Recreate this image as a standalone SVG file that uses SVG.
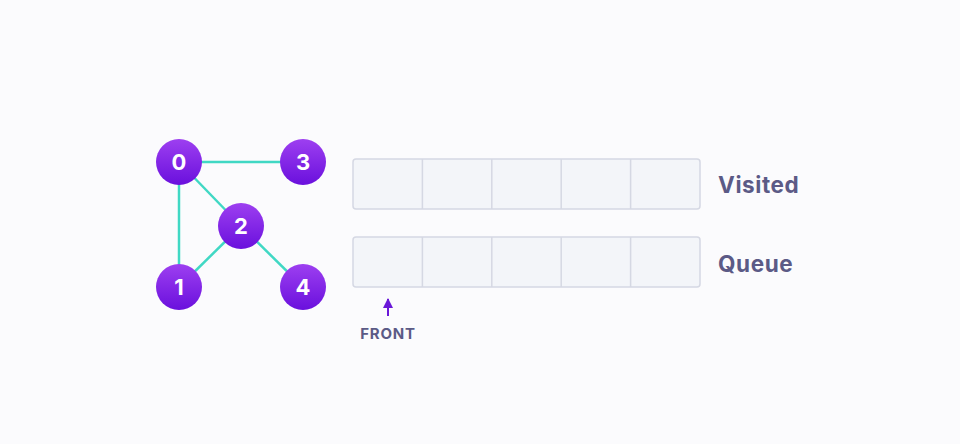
<svg xmlns="http://www.w3.org/2000/svg" width="960" height="444" viewBox="0 0 960 444">
<defs>
<linearGradient id="g" x1="0" y1="0" x2="0" y2="1">
<stop offset="0" stop-color="#9d3ff0"/>
<stop offset="1" stop-color="#6a10dd"/>
</linearGradient>
<marker id="ah" viewBox="0 0 10 10" refX="9" refY="5" markerWidth="10" markerHeight="10" orient="auto" markerUnits="userSpaceOnUse">
<path d="M0,0 L10,5 L0,10 Z" fill="#6a18d8"/>
</marker>
</defs>
<style>
.node circle{fill:url(#g)}
.node text{fill:#fff;font-family:"Inter","Liberation Sans",sans-serif;font-weight:700;font-size:22px;text-anchor:middle}
.edge{stroke:#40d8c4;stroke-width:2.5}
.box{fill:#f3f5f9;stroke:#d5d8e3;stroke-width:1.5}
.div{stroke:#d5d8e3;stroke-width:1.5}
.lbl{fill:#5b5a86;font-family:"Inter","Liberation Sans",sans-serif;font-weight:700}
</style>
<rect width="960" height="444" fill="#fbfbfd"/>
<g id="connectors">
<line class="edge" x1="179" y1="162" x2="303" y2="162"/>
<line class="edge" x1="179" y1="162" x2="179" y2="287"/>
<line class="edge" x1="179" y1="162" x2="241" y2="226"/>
<line class="edge" x1="241" y1="226" x2="179" y2="287"/>
<line class="edge" x1="241" y1="226" x2="303" y2="287"/>
</g>
<g id="node0" class="node"><circle cx="179" cy="162" r="23"/><text x="179" y="170">0</text></g>
<g id="node3" class="node"><circle cx="303" cy="162" r="23"/><text x="303" y="170">3</text></g>
<g id="node2" class="node"><circle cx="241" cy="226" r="23"/><text x="241" y="234">2</text></g>
<g id="node1" class="node"><circle cx="179" cy="287" r="23"/><text x="179" y="295">1</text></g>
<g id="node4" class="node"><circle cx="303" cy="287" r="23"/><text x="303" y="295">4</text></g>
<g id="visited">
<rect class="box" x="353" y="159" width="347" height="50" rx="3"/>
<line class="div" x1="422.4" y1="159" x2="422.4" y2="209"/>
<line class="div" x1="491.8" y1="159" x2="491.8" y2="209"/>
<line class="div" x1="561.2" y1="159" x2="561.2" y2="209"/>
<line class="div" x1="630.6" y1="159" x2="630.6" y2="209"/>
<text class="lbl" x="718" y="193" font-size="22.5" letter-spacing="0.6">Visited</text>
</g>
<g id="queue">
<rect class="box" x="353" y="237" width="347" height="50" rx="3"/>
<line class="div" x1="422.4" y1="237" x2="422.4" y2="287"/>
<line class="div" x1="491.8" y1="237" x2="491.8" y2="287"/>
<line class="div" x1="561.2" y1="237" x2="561.2" y2="287"/>
<line class="div" x1="630.6" y1="237" x2="630.6" y2="287"/>
<text class="lbl" x="718" y="272" font-size="22.5" letter-spacing="0.6">Queue</text>
</g>
<g id="front">
<line x1="388" y1="316" x2="388" y2="299" stroke="#6a18d8" stroke-width="2" marker-end="url(#ah)"/>
<text class="lbl" x="388" y="339" font-size="15" letter-spacing="0.8" text-anchor="middle">FRONT</text>
</g>
</svg>
